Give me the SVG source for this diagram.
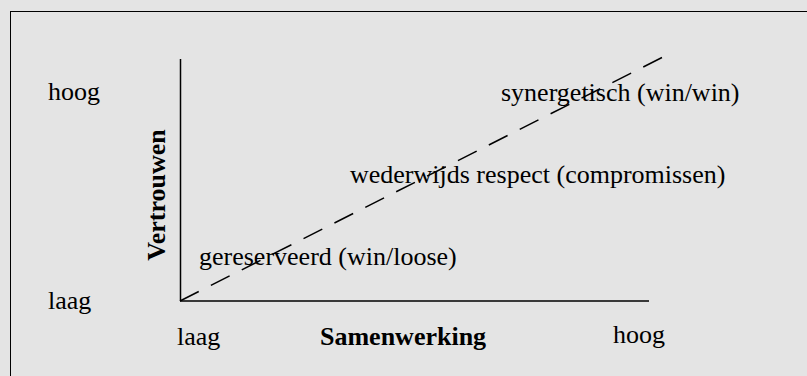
<svg xmlns="http://www.w3.org/2000/svg" width="807" height="376" viewBox="0 0 807 376">
<style>
text{font-family:"Liberation Serif","Times New Roman",serif;font-size:26px;fill:#000}
.b{font-weight:bold}
.ax{stroke:#000;stroke-width:1.5;fill:none}
</style>
<rect x="0" y="0" width="807" height="376" fill="#e4e4e4"/>
<rect x="10.5" y="11.5" width="820" height="400" fill="none" stroke="#000" stroke-width="1"/>
<g id="connectors">
<line class="ax" x1="180.5" y1="59" x2="180.5" y2="301"/>
<line class="ax" x1="180" y1="301" x2="649" y2="301"/>
<line x1="180" y1="301" x2="663" y2="57" stroke="#000" stroke-width="1.5" stroke-dasharray="21,13.6"/>
</g>
<g id="yaxis-labels">
<text x="48" y="100">hoog</text>
<text x="48" y="309">laag</text>
<text class="b" transform="translate(165,195) rotate(-90)" text-anchor="middle">Vertrouwen</text>
</g>
<g id="xaxis-labels">
<text x="177" y="345">laag</text>
<text class="b" x="320" y="345">Samenwerking</text>
<text x="613" y="343">hoog</text>
</g>
<g id="synergetisch"><text x="501" y="101">synergetisch (win/win)</text></g>
<g id="respect"><text x="350" y="183">wederwijds respect (compromissen)</text></g>
<g id="gereserveerd"><text x="199" y="265">gereserveerd (win/loose)</text></g>
</svg>
